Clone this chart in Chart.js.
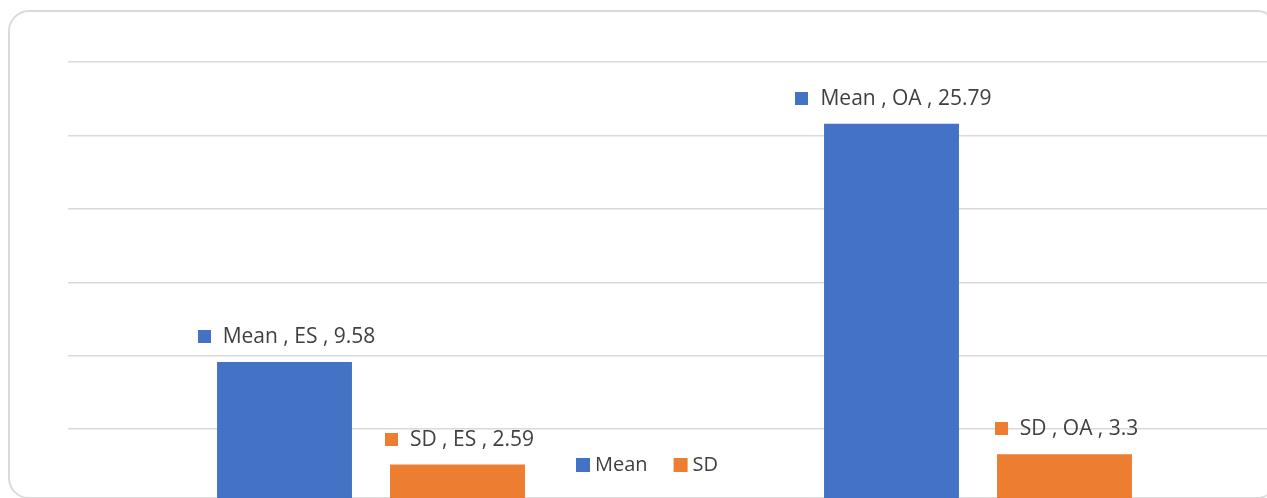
<!DOCTYPE html>
<html>
<head>
<meta charset="utf-8">
<script src="https://cdn.jsdelivr.net/npm/chart.js@4.4.1/dist/chart.umd.min.js"></script>
<style>
  html, body { margin: 0; padding: 0; background: #ffffff; overflow: hidden; width: 1267px; height: 498px; }
  #frame { position: absolute; left: 8px; top: 10px; width: 1266px; height: 485px; border: 2px solid #dadada; border-radius: 21px; box-sizing: content-box; }
  #wrap { position: absolute; left: 0; top: 0; width: 1300px; height: 520px; }
</style>
</head>
<body>
<div id="frame"></div>
<div id="wrap"><canvas id="c"></canvas></div>
<script>
const categories = ["ES", "OA"];
const seriesNames = ["Mean", "SD"];
const meanValues = [9.58, 25.79];
const sdValues = [2.59, 3.3];
const yTicks = [0, 5, 10, 15, 20, 25, 30];

const colors = ["#4472C4", "#ED7D31"];
const FONT = '"Open Sans", "Liberation Sans", sans-serif';

const labelPlugin = {
  id: 'excelLabels',
  afterDatasetsDraw(chart) {
    const ctx = chart.ctx;
    ctx.save();
    ctx.font = '21px ' + FONT;
    ctx.textBaseline = 'middle';
    ctx.textAlign = 'left';
    chart.data.datasets.forEach((ds, di) => {
      const meta = chart.getDatasetMeta(di);
      meta.data.forEach((el, i) => {
        const txt = ds.label + ' , ' + chart.data.labels[i] + ' , ' + ds.data[i];
        const tw = ctx.measureText(txt).width;
        const total = 13 + 12 + tw;
        const x0 = el.x + 2 - total / 2;
        const yc = el.y - 25;
        ctx.fillStyle = ds.backgroundColor;
        ctx.fillRect(Math.round(x0), Math.round(yc - 7), 13, 13);
        ctx.fillStyle = '#404040';
        ctx.fillText(txt, x0 + 25, yc);
      });
    });
    ctx.restore();
  }
};

const legendPlugin = {
  id: 'bottomLegend',
  afterDraw(chart) {
    const ctx = chart.ctx;
    ctx.save();
    ctx.font = '20px ' + FONT;
    ctx.textBaseline = 'middle';
    ctx.textAlign = 'left';
    let x = 576;
    const yc = 465;
    chart.data.datasets.forEach((ds) => {
      ctx.fillStyle = ds.backgroundColor;
      ctx.fillRect(x, yc - 7, 14, 14);
      x += 19;
      ctx.fillStyle = '#404040';
      ctx.fillText(ds.label, x, yc);
      x += ctx.measureText(ds.label).width + 26;
    });
    ctx.restore();
  }
};

new Chart(document.getElementById('c'), {
  type: 'bar',
  data: {
    labels: categories,
    datasets: [
      { label: seriesNames[0], data: meanValues, backgroundColor: colors[0], borderWidth: 0 },
      { label: seriesNames[1], data: sdValues, backgroundColor: colors[1], borderWidth: 0 }
    ]
  },
  options: {
    responsive: true,
    maintainAspectRatio: false,
    animation: false,
    layout: { padding: { left: 67.5, right: 18.5, top: 62, bottom: 17.4 } },
    plugins: { legend: { display: false }, tooltip: { enabled: false } },
    datasets: { bar: { categoryPercentage: 0.570, barPercentage: 0.780 } },
    scales: {
      x: { display: false, grid: { display: false } },
      y: {
        display: true,
        min: yTicks[0],
        max: yTicks[yTicks.length - 1],
        afterFit(s) { s.width = 0; },
        afterBuildTicks(s) { s.ticks = yTicks.map(v => ({ value: v })); },
        ticks: { display: false },
        border: { display: false },
        grid: { color: '#d9d9d9', lineWidth: 1.5, drawTicks: false }
      }
    }
  },
  plugins: [labelPlugin, legendPlugin]
});
</script>
</body>
</html>
